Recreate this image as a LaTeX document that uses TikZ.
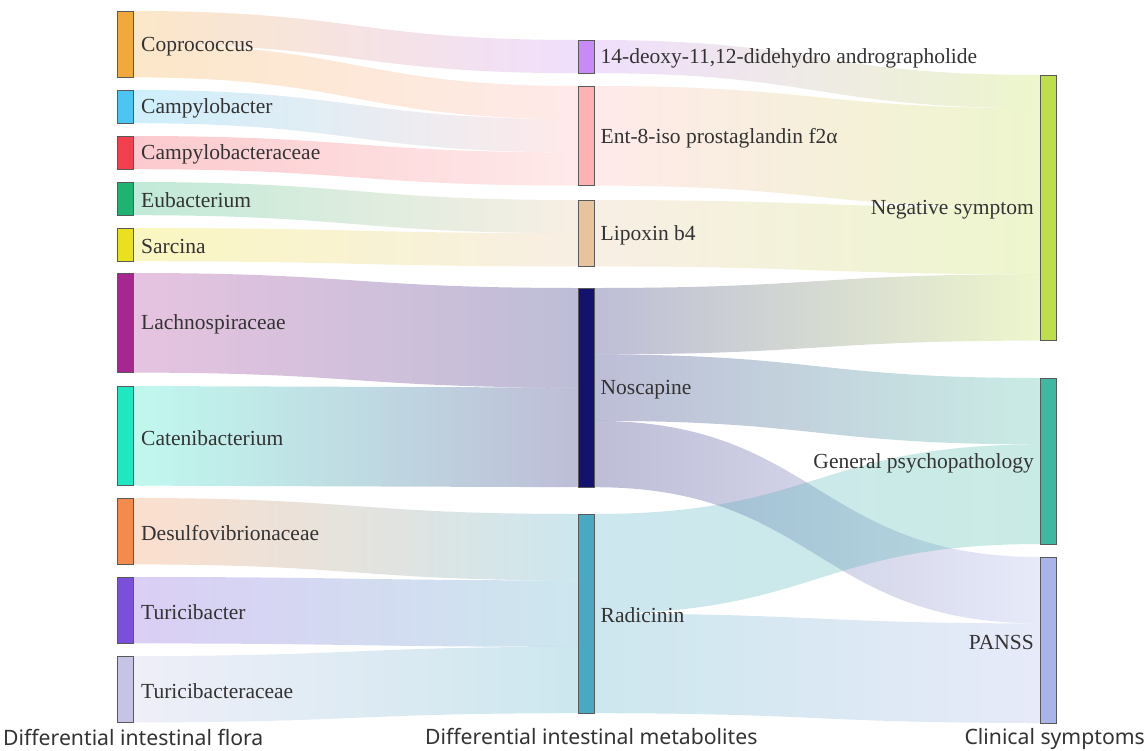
\documentclass[tikz,border=0pt]{standalone}
\usepackage{fontspec}
\setmainfont{Liberation Serif}
\setsansfont{Noto Sans}
\usetikzlibrary{calc,positioning,backgrounds}
\definecolor{color_copro}{HTML}{f2a93b}
\definecolor{color_campy}{HTML}{4cc5f2}
\definecolor{color_campyc}{HTML}{f2404e}
\definecolor{color_eubac}{HTML}{1fb372}
\definecolor{color_sarcina}{HTML}{e9e01e}
\definecolor{color_lachno}{HTML}{a5278f}
\definecolor{color_cateni}{HTML}{1ee8c2}
\definecolor{color_desulfo}{HTML}{f38b4c}
\definecolor{color_turi}{HTML}{7a4fd9}
\definecolor{color_turic}{HTML}{c5c4e6}
\definecolor{color_deoxy}{HTML}{c88bf6}
\definecolor{color_ent}{HTML}{ffb2b2}
\definecolor{color_lipox}{HTML}{e6c49e}
\definecolor{color_nosc}{HTML}{13136e}
\definecolor{color_radic}{HTML}{4aa8c3}
\definecolor{color_neg}{HTML}{bede4a}
\definecolor{color_gen}{HTML}{3eb8a0}
\definecolor{color_panss}{HTML}{a9b4e9}
\newcommand{\flowunit}{33.2}
% source, source offset, target, target offset, width, colours
\newcommand{\flowlink}[7]{%
	\coordinate (la) at ($(#1.north east)+(0,{#2*\flowunit})$);
	\coordinate (lb) at ($(#1.north east)+(0,{(#2+#5)*\flowunit})$);
	\coordinate (ra) at ($(#3.north west)+(0,{#4*\flowunit})$);
	\coordinate (rb) at ($(#3.north west)+(0,{(#4+#5)*\flowunit})$);
	\coordinate (lm) at ($(la)!0.5!(ra)$);
	\begin{scope}[on background layer]
		\shade[flow, left color=#6, right color=#7]
			(la) .. controls (lm |- la) and (lm |- ra) .. (ra) --
			(rb) .. controls (lm |- rb) and (lm |- lb) .. (lb) --
			cycle;
	\end{scope}
}

\begin{document}
\begin{tikzpicture}[x=1pt,y=-1pt,
		bar/.style={rectangle,draw=black!65,line width=0.8pt,minimum width=16pt,inner sep=0,outer sep=0,anchor=north},
		lbl/.style={inner sep=0,yshift=-2pt,text=black!80,font=\fontsize{21.5}{25}\selectfont},
		axis/.style={inner sep=0,text=black!80,font=\sffamily\fontsize{21.2}{25}\selectfont},
		flow/.style={fill opacity=0.28}]
	\useasboundingbox (0,0) rectangle (1148,750);
	% Flora
	\node[bar, fill=color_copro, minimum height=66.4pt] (copro) at (125,11) {};
	\node[bar, fill=color_campy, minimum height=33.2pt] (campy) at (125,90) {};
	\node[bar, fill=color_campyc, minimum height=33.2pt] (campyc) at (125,136) {};
	\node[bar, fill=color_eubac, minimum height=33.2pt] (eubac) at (125,182) {};
	\node[bar, fill=color_sarcina, minimum height=33.2pt] (sarcina) at (125,228) {};
	\node[bar, fill=color_lachno, minimum height=99.6pt] (lachno) at (125,273) {};
	\node[bar, fill=color_cateni, minimum height=99.6pt] (cateni) at (125,386) {};
	\node[bar, fill=color_desulfo, minimum height=66.4pt] (desulfo) at (125,498) {};
	\node[bar, fill=color_turi, minimum height=66.4pt] (turi) at (125,577) {};
	\node[bar, fill=color_turic, minimum height=66.4pt] (turic) at (125,656) {};
	\node[lbl, right=8pt of copro] (copro_t) {Coprococcus};
	\node[lbl, right=8pt of campy] (campy_t) {Campylobacter};
	\node[lbl, right=8pt of campyc] (campyc_t) {Campylobacteraceae};
	\node[lbl, right=8pt of eubac] (eubac_t) {Eubacterium};
	\node[lbl, right=8pt of sarcina] (sarcina_t) {Sarcina};
	\node[lbl, right=8pt of lachno] (lachno_t) {Lachnospiraceae};
	\node[lbl, right=8pt of cateni] (cateni_t) {Catenibacterium};
	\node[lbl, right=8pt of desulfo] (desulfo_t) {Desulfovibrionaceae};
	\node[lbl, right=8pt of turi] (turi_t) {Turicibacter};
	\node[lbl, right=8pt of turic] (turic_t) {Turicibacteraceae};
	
	% Metabolites
	\node[bar, fill=color_deoxy, minimum height=33.2pt] (deoxy) at (586.5,40) {};
	\node[bar, fill=color_ent, minimum height=99.6pt] (ent) at (586.5,86) {};
	\node[bar, fill=color_lipox, minimum height=66.4pt] (lipox) at (586.5,200) {};
	\node[bar, fill=color_nosc, minimum height=199.2pt] (nosc) at (586.5,288) {};
	\node[bar, fill=color_radic, minimum height=199.2pt] (radic) at (586.5,514) {};
	\node[lbl, right=6pt of deoxy] (deoxy_t) {14-deoxy-11,12-didehydro andrographolide};
	\node[lbl, right=6pt of ent] (ent_t) {Ent-8-iso prostaglandin f2α};
	\node[lbl, right=6pt of lipox] (lipox_t) {Lipoxin b4};
	\node[lbl, right=6pt of nosc] (nosc_t) {Noscapine};
	\node[lbl, right=6pt of radic] (radic_t) {Radicinin};
	
	% Symptoms
	\node[bar, fill=color_neg, minimum height=265.6pt] (neg) at (1048,75) {};
	\node[bar, fill=color_gen, minimum height=166pt] (gen) at (1048,378) {};
	\node[bar, fill=color_panss, minimum height=166pt] (panss) at (1048,557) {};
	\node[lbl, left=6pt of neg] (neg_t) {Negative symptom};
	\node[lbl, left=6pt of gen] (gen_t) {General psychopathology};
	\node[lbl, left=6pt of panss] (panss_t) {PANSS};
	
	% Column titles
	\node[axis, anchor=base west] (flora_a) at (3,745) {Differential intestinal flora};
	\node[axis, anchor=base west] (metab_a) at (425,744) {Differential intestinal metabolites};
	\node[axis, anchor=base east] (clin_a) at (1145,744) {Clinical symptoms};
	
	% Flows
	\flowlink{copro}{0}{deoxy}{0}{1}{color_copro}{color_deoxy}
	\flowlink{copro}{1}{ent}{0}{1}{color_copro}{color_ent}
	\flowlink{campy}{0}{ent}{1}{1}{color_campy}{color_ent}
	\flowlink{campyc}{0}{ent}{2}{1}{color_campyc}{color_ent}
	\flowlink{eubac}{0}{lipox}{0}{1}{color_eubac}{color_lipox}
	\flowlink{sarcina}{0}{lipox}{1}{1}{color_sarcina}{color_lipox}
	\flowlink{lachno}{0}{nosc}{0}{3}{color_lachno}{color_nosc}
	\flowlink{cateni}{0}{nosc}{3}{3}{color_cateni}{color_nosc}
	\flowlink{desulfo}{0}{radic}{0}{2}{color_desulfo}{color_radic}
	\flowlink{turi}{0}{radic}{2}{2}{color_turi}{color_radic}
	\flowlink{turic}{0}{radic}{4}{2}{color_turic}{color_radic}
	\flowlink{deoxy}{0}{neg}{0}{1}{color_deoxy}{color_neg}
	\flowlink{ent}{0}{neg}{1}{3}{color_ent}{color_neg}
	\flowlink{lipox}{0}{neg}{4}{2}{color_lipox}{color_neg}
	\flowlink{nosc}{0}{neg}{6}{2}{color_nosc}{color_neg}
	\flowlink{nosc}{2}{gen}{0}{2}{color_nosc}{color_gen}
	\flowlink{nosc}{4}{panss}{0}{2}{color_nosc}{color_panss}
	\flowlink{radic}{0}{gen}{2}{3}{color_radic}{color_gen}
	\flowlink{radic}{3}{panss}{2}{3}{color_radic}{color_panss}
\end{tikzpicture}
\end{document}
